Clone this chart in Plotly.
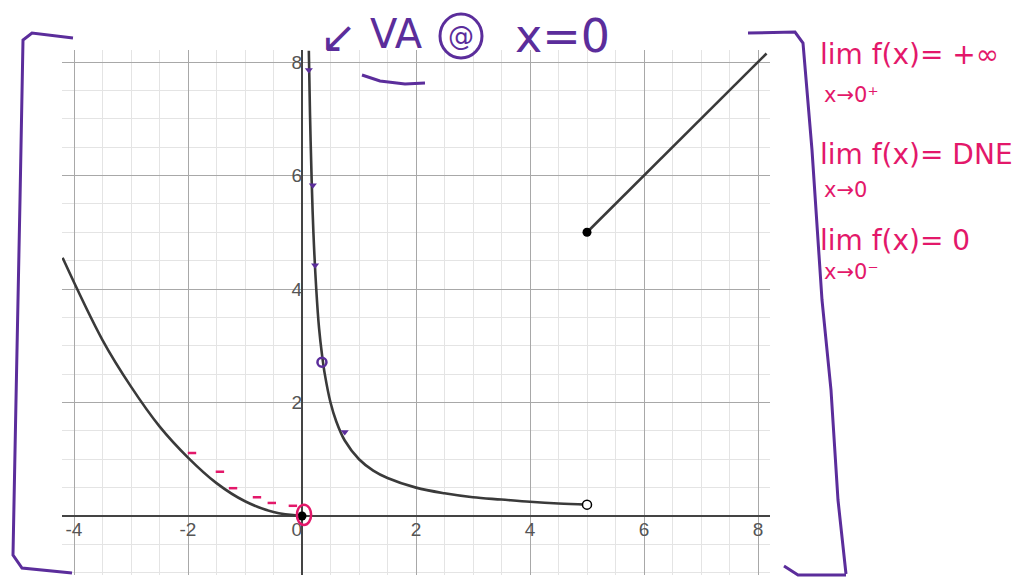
import plotly.graph_objects as go

# values
left_x = [-4.2, -3.5, -3.0, -2.5, -2.0, -1.5, -1.0, -0.5, 0.0]
left_y = [4.55, 3.1, 2.28, 1.58, 1.03, 0.58, 0.26, 0.07, 0.0]

right_x = [0.12, 0.14, 0.17, 0.2, 0.25, 0.3, 0.35, 0.4, 0.5, 0.6, 0.75, 1.0,
           1.25, 1.5, 2.0, 2.5, 3.0, 3.5, 4.0, 4.5, 5.0]
right_y = [8.2, 7.1, 5.9, 5.0, 4.0, 3.3, 2.85, 2.5, 2.0, 1.67, 1.33, 1.0,
           0.8, 0.67, 0.5, 0.4, 0.33, 0.29, 0.25, 0.22, 0.2]

line_x = [5.0, 8.15]
line_y = [5.0, 8.15]

closed_x = [0, 5]
closed_y = [0, 5]
open_x = [5]
open_y = [0.2]

# hand-drawn marks on the curves
purple_mark_x = [0.12, 0.19, 0.23, 0.75]
purple_mark_y = [7.86, 5.83, 4.42, 1.48]
purple_ring_x = [0.35]
purple_ring_y = [2.71]
pink_mark_x = [-1.93, -1.44, -1.21, -0.79, -0.53, -0.16]
pink_mark_y = [1.11, 0.78, 0.49, 0.33, 0.23, 0.18]

x_ticks = [-4, -2, 0, 2, 4, 6, 8]
y_ticks = [2, 4, 6, 8]

curve = '#3a3a3a'
purple = '#5b2d9b'
pink = '#e3186a'

# page has an 8px body margin, so the figure is laid out 8px down/right
W, H = 1029, 577
OFF = 8
L, R, T, B = 62, 770, 50, 575   # plot area in page pixels


def px(x):
    return (x - L) / (R - L)


def py(y):
    return (B - y) / (B - T)


fig = go.Figure()
fig.add_trace(go.Scatter(x=left_x, y=left_y, mode='lines', line=dict(color=curve, width=2.6, shape='spline')))
fig.add_trace(go.Scatter(x=right_x, y=right_y, mode='lines', line=dict(color=curve, width=2.6, shape='spline')))
fig.add_trace(go.Scatter(x=line_x, y=line_y, mode='lines', line=dict(color=curve, width=2.6)))
fig.add_trace(go.Scatter(x=open_x, y=open_y, mode='markers',
                         marker=dict(color='white', size=9, line=dict(color='black', width=1.5))))
fig.add_trace(go.Scatter(x=closed_x, y=closed_y, mode='markers', marker=dict(color='black', size=9)))
fig.add_trace(go.Scatter(x=purple_mark_x, y=purple_mark_y, mode='markers',
                         marker=dict(color=purple, size=7, symbol='triangle-down')))
fig.add_trace(go.Scatter(x=purple_ring_x, y=purple_ring_y, mode='markers',
                         marker=dict(color='rgba(0,0,0,0)', size=9, line=dict(color=purple, width=2.5))))
fig.add_trace(go.Scatter(x=pink_mark_x, y=pink_mark_y, mode='markers',
                         marker=dict(color=pink, size=6, symbol='line-ew', line=dict(color=pink, width=2.5))))

xr = [(L - 302) / 57, (R - 302) / 57]
yr = [(516 - B) / 56.75, (516 - T) / 56.75]

tick_font = dict(family='Liberation Sans, Arial', size=19, color='#555')

fig.update_layout(
    width=W, height=H, showlegend=False,
    margin=dict(l=L - OFF, r=W - R + OFF, t=T - OFF, b=H - B + OFF),
    paper_bgcolor='white', plot_bgcolor='white',
    xaxis=dict(range=xr, tickvals=x_ticks, ticktext=['-4', '-2', '0\u00a0\u00a0', '2', '4', '6', '8'],
               tickfont=tick_font, gridcolor='#a8a8a8', gridwidth=1,
               minor=dict(dtick=0.5, tick0=0, showgrid=True, gridcolor='#e4e4e4'),
               zeroline=True, zerolinecolor='#444', zerolinewidth=2,
               anchor='free', position=py(516), showline=False, fixedrange=True),
    yaxis=dict(range=yr, tickvals=y_ticks, tickfont=tick_font, gridcolor='#a8a8a8', gridwidth=1,
               minor=dict(dtick=0.5, tick0=0, showgrid=True, gridcolor='#e4e4e4'),
               zeroline=True, zerolinecolor='#444', zerolinewidth=2,
               anchor='free', position=px(302), showline=False, fixedrange=True),
)


# purple brackets and underline (hand drawn), page pixel points
def path(points):
    s = 'M %f,%f' % (px(points[0][0]), py(points[0][1]))
    for a, b in points[1:]:
        s += ' L %f,%f' % (px(a), py(b))
    return s


left_br = [(73, 38), (32, 33), (23, 40), (20, 200), (16, 400), (13, 555), (22, 568), (72, 573)]
right_br = [(748, 33), (795, 32), (803, 43), (812, 150), (822, 300), (831, 390), (838, 500), (846, 574)]
right_bot = [(784, 566), (798, 575), (846, 575)]
underline = [(362, 75), (380, 81), (405, 84), (425, 83)]
for pts in [left_br, right_br, right_bot, underline]:
    fig.add_shape(type='path', xref='paper', yref='paper', path=path(pts),
                  line=dict(color=purple, width=3))

# circled @
fig.add_shape(type='circle', xref='paper', yref='paper', x0=px(440), x1=px(482), y0=py(58), y1=py(14),
              line=dict(color=purple, width=3))
# pink ring at origin
fig.add_shape(type='circle', x0=-0.09, x1=0.16, y0=-0.16, y1=0.2, line=dict(color=pink, width=2.5))

hand = 'DejaVu Sans'


def note(x, y, text, size, color, xanchor='center'):
    fig.add_annotation(x=px(x), y=py(y), xref='paper', yref='paper', text=text, showarrow=False,
                       xanchor=xanchor, yanchor='middle', font=dict(family=hand, size=size, color=color))


note(338, 36, '\u2199', 44, purple)
note(396, 34, 'VA', 40, purple)
note(461, 36, '@', 26, purple)
note(562, 36, 'x=0', 46, purple)

lims = [('lim f(x)= +\u221e', 'x\u21920\u207a', 55, 95),
        ('lim f(x)= DNE', 'x\u21920', 155, 190),
        ('lim f(x)= 0', 'x\u21920\u207b', 240, 272)]
for main, sub, y1, y2 in lims:
    note(818, y1, main, 28, pink, 'left')
    note(822, y2, sub, 21, pink, 'left')

fig.write_html("out.html")
